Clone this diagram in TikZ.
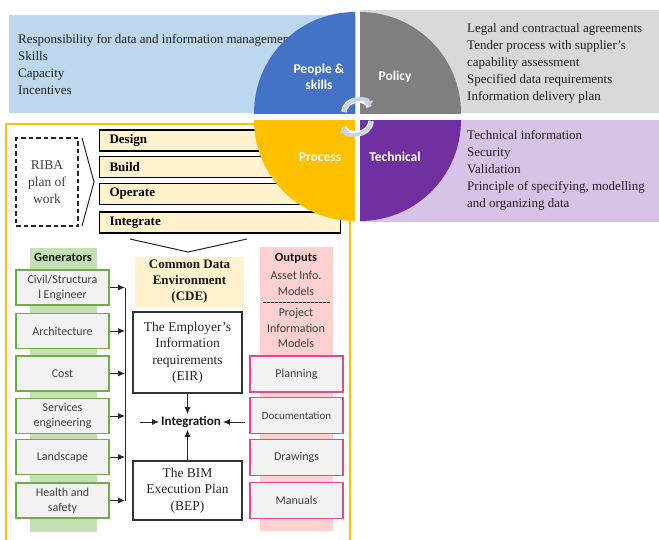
\documentclass[tikz,border=0pt]{standalone}
\usepackage{fontspec}
\setmainfont{Liberation Serif}
\newfontfamily\cbr{Carlito}
\usetikzlibrary{arrows.meta}

\definecolor{panelblue}{HTML}{BDD7EE}
\definecolor{panelgray}{HTML}{D9D9D9}
\definecolor{panelpurple}{HTML}{D8C3E8}
\definecolor{qblue}{HTML}{4472C4}
\definecolor{qgray}{HTML}{7F7F7F}
\definecolor{qyellow}{HTML}{FFC000}
\definecolor{qpurple}{HTML}{7030A0}
\definecolor{beige}{HTML}{FFF2CC}
\definecolor{stripgreen}{HTML}{C5E0B4}
\definecolor{bordergreen}{HTML}{70AD47}
\definecolor{strippink}{HTML}{FFD0D0}
\definecolor{borderpink}{HTML}{DF4B8C}
\definecolor{boxgray}{HTML}{F2F2F2}
\definecolor{txtgray}{HTML}{404040}
\definecolor{cyclecol}{HTML}{C5D2EA}

\tikzset{
  sidetext/.style={anchor=west, align=left, inner sep=0pt, text=black!88,
    font=\fontsize{13}{17}\selectfont},
  quadlabel/.style={text=white, align=center, inner sep=1pt,
    font=\cbr\bfseries\fontsize{13.5}{16}\selectfont},
  stagebar/.style={draw=black, line width=1.1pt, fill=beige, anchor=west,
    minimum width=241pt, minimum height=21pt, text width=221pt,
    inner xsep=10pt, inner ysep=0pt, align=left,
    font=\bfseries\fontsize{13}{15}\selectfont},
  genbox/.style={draw=bordergreen, line width=1.4pt, fill=boxgray,
    minimum width=93pt, minimum height=35pt, inner sep=1pt, align=center,
    text=txtgray, font=\cbr\fontsize{12}{15}\selectfont},
  outbox/.style={draw=borderpink, line width=1.4pt, fill=boxgray,
    minimum width=93pt, minimum height=36pt, inner sep=1pt, align=center,
    text=txtgray, font=\cbr\fontsize{12}{15}\selectfont},
  docbox/.style={draw=black!80, line width=1.3pt, fill=white,
    minimum width=109pt, inner sep=1pt, align=center, text=black!85,
    font=\fontsize{13.5}{16.5}\selectfont},
  colhead/.style={inner sep=0pt, text=black!90,
    font=\cbr\bfseries\fontsize{12.5}{15}\selectfont},
  arr/.style={-{Latex[length=7pt,width=6pt]}, line width=0.8pt, black!85},
  cyclearrow/.style={cyclecol, line width=3.5pt,
    -{Triangle[length=6pt,width=10pt]}},
}

\begin{document}
\begin{tikzpicture}[x=1pt,y=-1pt]
\useasboundingbox (0,0) rectangle (659,539);
\fill[white] (0,0) rectangle (659,539);

% ---- side panels of the four quadrants
\fill[panelblue] (9,15) rectangle (356,113);
\node[sidetext] (peopletext) at (18,64.5)
  {Responsibility for data and information management\\Skills\\Capacity\\Incentives};
\fill[panelgray] (360,10) rectangle (659,113);
\node[sidetext] (policytext) at (467,63.5)
  {Legal and contractual agreements\\Tender process with supplier's\\capability assessment\\Specified data requirements\\Information delivery plan};
\fill[panelpurple] (360,120) rectangle (659,222);
\node[sidetext] (techtext) at (467,170)
  {Technical information\\Security\\Validation\\Principle of specifying, modelling\\and organizing data};

% ---- process frame
\draw[qyellow, line width=2pt] (6,545) -- (6,124) -- (350,124) -- (350,545);

% RIBA plan of work
\node[draw=black!85, dashed, dash pattern=on 4.5pt off 3pt, line width=1.2pt,
  minimum width=62pt, minimum height=88pt, align=center, text=txtgray,
  font=\fontsize{13.5}{17}\selectfont] (riba) at (47,182) {RIBA\\plan of\\work};
\draw[black!85, line width=1pt] (82,138) -- (94,182) -- (82,226);

% stages
\node[stagebar] (design) at (99,140.5) {Design};
\node[stagebar] (build) at (99,167) {Build};
\node[stagebar] (operate) at (99,194) {Operate};
\node[stagebar] (integrate) at (99,222.5) {Integrate};
\draw[black!85, line width=1pt] (130,239) -- (188,252) -- (247,239);

% common data environment
\node[fill=beige, minimum width=109pt, minimum height=50pt, inner sep=1pt,
  align=center, text=black!90, font=\bfseries\fontsize{13}{16}\selectfont]
  (cde) at (189.5,282) {Common Data\\Environment\\(CDE)};

% generators column
\fill[stripgreen] (30,248) rectangle (97,532);
\node[colhead] (genhead) at (63,257) {Generators};
\node[genbox] (civil) at (62.5,287.5) {Civil/Structura\\l Engineer};
\node[genbox] (arch) at (62.5,331) {Architecture};
\node[genbox] (cost) at (62.5,373.5) {Cost};
\node[genbox] (serv) at (62.5,416) {Services\\engineering};
\node[genbox] (land) at (62.5,457) {Landscape};
\node[genbox] (health) at (62.5,500.5) {Health and\\safety};

\coordinate (bustop) at (125,287.5);
\coordinate (busbot) at (125,500.5);
\draw[line width=0.8pt, black!85] (bustop) -- (busbot);
\foreach \g in {civil,arch,cost,serv,land,health}
  \draw[arr] (\g.east) -- (\g.east -| bustop);

% outputs column
\fill[strippink] (260,247) rectangle (333,531);
\node[colhead] (outhead) at (296,258) {Outputs};
\node[inner sep=0pt, align=center, text=txtgray,
  font=\cbr\fontsize{12}{16}\selectfont] (asset) at (296,283) {Asset Info.\\Models};
\draw[dashed, dash pattern=on 2.5pt off 1.5pt, black!80, line width=0.7pt]
  (263,302) -- (330,302);
\node[inner sep=0pt, align=center, text=txtgray,
  font=\cbr\fontsize{12}{15.5}\selectfont] (pim) at (296,328) {Project\\Information\\Models};
\node[outbox] (plan) at (296.5,374) {Planning};
\node[outbox, font=\cbr\fontsize{11}{13}\selectfont] (docu) at (296.5,415.5) {Documentation};
\node[outbox] (drw) at (296.5,457.5) {Drawings};
\node[outbox] (manu) at (296.5,500.5) {Manuals};

% employer requirements, execution plan and integration
\node[docbox, minimum height=81pt] (eir) at (187.5,352.5)
  {The Employer's\\Information\\requirements\\(EIR)};
\node[docbox, minimum height=59pt] (bep) at (187.5,490.5)
  {The BIM\\Execution Plan\\(BEP)};
\node[inner sep=2pt, text=black!90, font=\cbr\bfseries\fontsize{13}{15}\selectfont]
  (integ) at (191,422) {Integration};
\coordinate (inleft) at (140,422);
\coordinate (inright) at (245,422);
\draw[arr] (inleft) -- (integ.west);
\draw[arr] (inright) -- (integ.east);
\draw[arr] (eir.south) -- (eir.south |- integ.north);
\draw[arr] (bep.north) -- (bep.north |- integ.south);

% ---- the four quadrants
\begin{scope}
  \clip (250,0) rectangle (355,113);
  \fill[qblue] (355,113) circle[radius=101];
\end{scope}
\begin{scope}
  \clip (360,0) rectangle (470,113);
  \fill[qgray] (360,113) circle[radius=101];
\end{scope}
\begin{scope}
  \clip (250,120) rectangle (355,230);
  \fill[qyellow] (355,120) circle[radius=101];
\end{scope}
\begin{scope}
  \clip (360,120) rectangle (470,230);
  \fill[qpurple] (360,120) circle[radius=101];
\end{scope}
\node[quadlabel] (people) at (319,77) {People \&\\skills};
\node[quadlabel] (policy) at (395,77) {Policy};
\node[quadlabel] (process) at (320,157) {Process};
\node[quadlabel] (technical) at (395,157) {Technical};

% cycle arrows at the centre
\draw[white, line width=5.5pt] (344,112) .. controls (345,97) and (368,97) .. (369,107);
\draw[cyclearrow] (344,112) .. controls (345,97) and (368,97) .. (369,107);
\draw[white, line width=5.5pt] (371,121) .. controls (370,137) and (345,137) .. (344,127);
\draw[cyclearrow] (371,121) .. controls (370,137) and (345,137) .. (344,127);
\end{tikzpicture}
\end{document}
